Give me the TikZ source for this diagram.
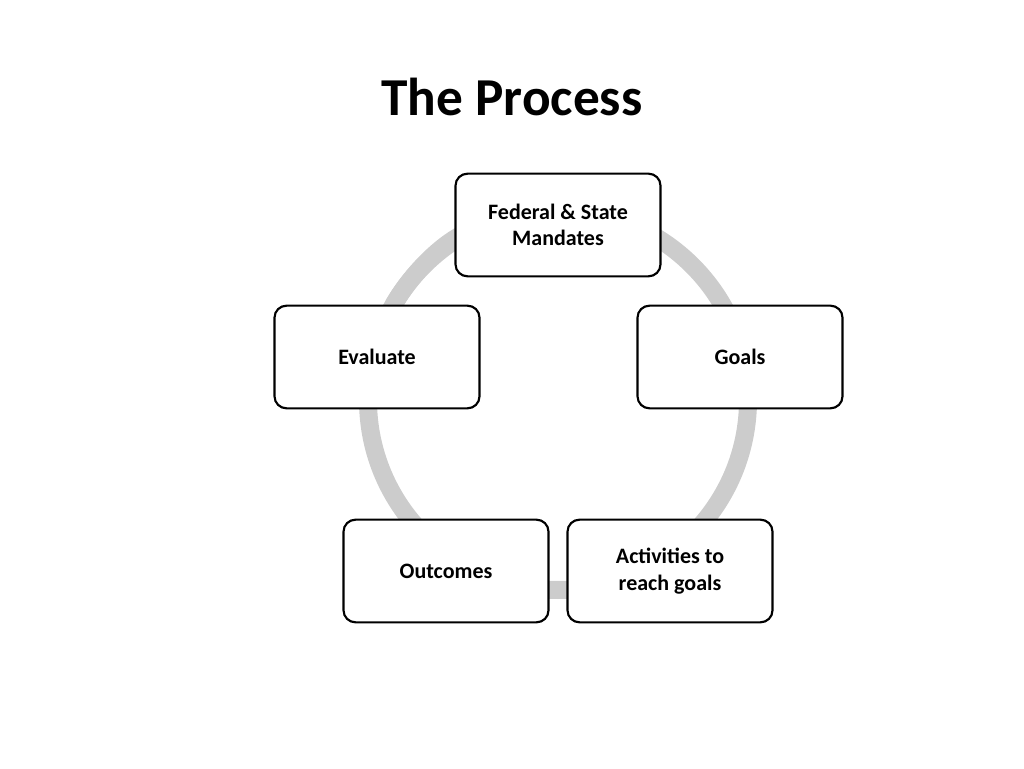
\documentclass[tikz,border=0pt]{standalone}
\usepackage{fontspec}
\setmainfont{Carlito}
\usetikzlibrary{arrows.meta}
\begin{document}
\begin{tikzpicture}[x=0.75pt,y=0.75pt,
  box/.style={draw=black,line width=1.6pt,rounded corners=9pt,fill=white,minimum width=153.75pt,minimum height=77pt,align=center,font=\bfseries\fontsize{16.5}{20}\selectfont},
  ring/.style={line width=13.5pt,draw={rgb,255:red,204;green,204;blue,204}}]
\useasboundingbox (0,0) rectangle (1024,768);
\coordinate (c) at (558,368);
\draw[ring] (c) circle[radius=190];
\draw[ring,-{Triangle[length=15pt,width=26pt]}] (c) ++(150:190) arc[start angle=150,end angle=113,radius=190];
\node (title) at (512,671) {\bfseries\fontsize{40}{48}\selectfont The Process};
\node[box] (fed) at (558,543) {Federal \& State\\Mandates};
\node[box] (goals) at (740,411) {Goals};
\node[box] (act) at (670,197) {Activities to\\reach goals};
\node[box] (out) at (446,197) {Outcomes};
\node[box] (eval) at (377,411) {Evaluate};
\end{tikzpicture}
\end{document}
